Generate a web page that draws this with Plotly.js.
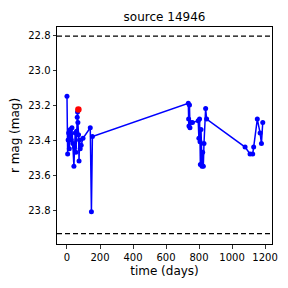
<!DOCTYPE html>
<html>
<head>
<meta charset="utf-8">
<script src="https://cdn.plot.ly/plotly-3.0.1.min.js"></script>
<style>html,body{margin:0;padding:0;background:#fff;}#chart{width:288px;height:288px;}</style>
</head>
<body>
<div id="chart"></div>
<script>
var days = [0, 4, 7, 10, 14, 20, 26, 30, 36, 42, 46, 50, 54, 58, 62, 64, 66, 70, 73, 76, 80, 86, 97, 141, 148, 154,
  735, 737, 739, 742, 745, 748, 760, 795, 799, 803, 806, 808, 812, 818, 822, 826, 830, 840, 846,
  1079, 1109, 1125, 1131, 1153, 1170, 1178, 1186];
var mags = [23.15, 23.48, 23.40, 23.36, 23.45, 23.34, 23.40, 23.33, 23.42, 23.55, 23.44, 23.36, 23.47, 23.35, 23.27, 23.24, 23.30, 23.37, 23.52, 23.40, 23.45, 23.43, 23.39, 23.33, 23.81, 23.38,
  23.19, 23.28, 23.32, 23.20, 23.33, 23.30, 23.30, 23.29, 23.39, 23.28, 23.41, 23.54, 23.34, 23.55, 23.47, 23.55, 23.42, 23.22, 23.28,
  23.44, 23.48, 23.48, 23.44, 23.28, 23.36, 23.42, 23.30];
var redDay = [69];
var redMag = [23.225];
var limitMags = [22.806, 23.935];
var titleText = "source 14946";
var xLabel = "time (days)";
var yLabel = "r mag (mag)";

var font = "DejaVu Sans, sans-serif";
var traces = [
  {x: days, y: mags, mode: "lines+markers", type: "scatter",
   line: {color: "#0000ff", width: 1.5}, marker: {color: "#0000ff", size: 5}, hoverinfo: "none"},
  {x: redDay, y: redMag, mode: "markers", type: "scatter",
   marker: {color: "#ff0000", size: 6.5}, hoverinfo: "none"}
];
var shapes = limitMags.map(function (m) {
  return {type: "line", xref: "paper", x0: 0, x1: 1, yref: "y", y0: m, y1: m,
          line: {color: "#000000", width: 1.3, dash: "5px,3px"}};
});
var axisCommon = {
  showgrid: false, zeroline: false, showline: true, mirror: true,
  linecolor: "#000", linewidth: 1, ticks: "outside", ticklen: 3.5, tickwidth: 0.8, tickcolor: "#000",
  tickfont: {family: font, size: 10, color: "#000"}
};
var layout = {
  width: 288, height: 288, showlegend: false,
  margin: {l: 57, r: 16, t: 27, b: 44},
  paper_bgcolor: "#fff", plot_bgcolor: "#fff",
  title: {text: titleText, font: {family: font, size: 12, color: "#000"}, xref: "paper", x: 0.5, xanchor: "center",
    yref: "container", y: 0.94, yanchor: "middle"},
  xaxis: Object.assign({}, axisCommon, {range: [-60.5, 1242], tickvals: [0, 200, 400, 600, 800, 1000, 1200],
    title: {text: xLabel, font: {family: font, size: 12, color: "#000"}, standoff: 5}}),
  yaxis: Object.assign({}, axisCommon, {range: [23.994, 22.754], tickvals: [22.8, 23.0, 23.2, 23.4, 23.6, 23.8],
    ticktext: ["22.8", "23.0", "23.2", "23.4", "23.6", "23.8"],
    title: {text: yLabel, font: {family: font, size: 12, color: "#000"}, standoff: 6}}),
  shapes: shapes
};
Plotly.newPlot("chart", traces, layout, {staticPlot: true, displayModeBar: false});
</script>
</body>
</html>
